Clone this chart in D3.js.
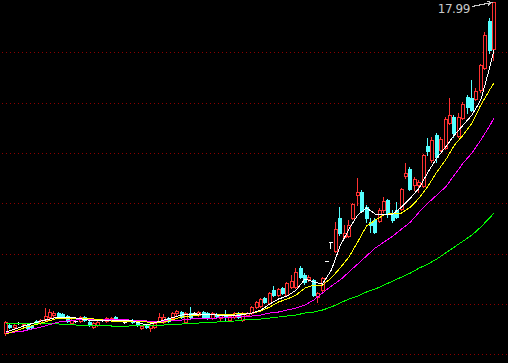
<!DOCTYPE html>
<html><head><meta charset="utf-8">
<script src="https://cdn.jsdelivr.net/npm/d3@7"></script>
<style>html,body{margin:0;padding:0;background:#000;overflow:hidden}svg{display:block}</style>
</head><body><svg id="c" width="508" height="363"></svg>
<script>
// ---- data ----
const opens = [4.75,5.07,4.99,5.15,5.07,5.07,5.03,5.23,5.15,5.27,5.39,5.47,5.55,5.51,5.43,5.15,5.23,5.23,5.39,5.19,
  4.99,5.07,5.27,5.23,5.27,5.39,5.27,5.19,5.27,5.27,5.19,4.95,5.07,4.95,4.99,5.23,5.19,5.35,5.35,5.55,
  5.59,5.19,5.55,5.55,5.47,5.59,5.55,5.35,5.51,5.35,5.51,5.27,5.39,5.55,5.27,5.47,5.55,5.79,5.83,6.15,
  5.95,6.47,6.27,6.55,6.27,6.59,6.59,7.35,7.07,6.91,6.87,6.19,6.47,7.63,8.39,8.03,9.35,8.59,8.63,9.35,
  10.27,10.39,9.79,9.19,9.27,9.23,9.67,10.07,9.55,9.67,9.71,11.03,11.31,10.67,10.67,10.63,12.23,11.67,12.67,12.07,
  12.15,13.15,13.39,12.63,13.35,14.19,14.15,14.11,14.47,15.35,17.23,16.11];
const closes = [5.19,4.99,5.07,5.15,5.11,4.95,4.99,5.15,5.27,5.43,5.59,5.55,5.43,5.39,5.23,5.27,5.23,5.39,5.27,5.07,
  5.15,5.19,5.27,5.35,5.35,5.27,5.27,5.19,5.27,5.19,5.07,5.03,4.99,5.07,5.15,5.39,5.39,5.23,5.55,5.63,
  5.39,5.55,5.39,5.55,5.59,5.39,5.35,5.55,5.43,5.47,5.39,5.43,5.55,5.39,5.55,5.55,5.79,5.99,6.11,5.99,
  6.35,6.27,6.51,6.35,6.75,6.83,7.19,6.99,6.79,6.99,6.27,6.35,6.95,7.63,8.39,8.91,8.75,8.75,9.07,9.91,
  10.39,9.63,9.35,9.07,8.79,9.67,10.03,9.51,9.27,9.39,10.51,11.15,10.51,10.91,10.79,11.87,12.03,12.47,11.79,12.51,
  13.31,13.47,12.75,13.39,13.91,13.79,13.67,14.43,15.47,16.67,16.07,17.99];
const highs = [5.23,5.11,5.11,5.19,5.15,5.11,5.07,5.27,5.31,5.75,5.71,5.63,5.59,5.55,5.47,5.31,5.27,5.43,5.43,5.23,
  5.19,5.23,5.31,5.39,5.39,5.43,5.31,5.23,5.31,5.31,5.23,5.07,5.11,5.11,5.19,5.55,5.51,5.39,5.59,5.67,
  5.63,5.59,5.79,5.59,5.63,5.63,5.59,5.59,5.55,5.51,5.67,5.47,5.59,5.59,5.59,5.59,5.83,6.03,6.15,6.19,
  6.39,6.63,6.55,6.59,6.79,7.07,7.35,7.43,7.15,7.07,6.91,6.39,6.99,7.63,8.39,9.19,9.79,9.07,9.27,9.95,
  10.95,10.47,9.87,9.35,9.35,9.75,10.19,10.11,9.67,9.99,10.55,11.55,11.39,10.99,10.87,11.91,12.55,12.59,12.75,12.59,
  13.39,14.15,13.47,13.55,13.99,14.27,14.87,14.55,15.51,16.79,17.35,17.99];
const lows = [4.67,4.95,4.95,5.11,5.03,4.91,4.95,5.11,5.11,5.23,5.35,5.35,5.39,5.35,5.19,5.11,5.19,5.19,5.23,5.03,
  4.95,5.03,5.23,5.19,5.23,5.23,5.23,5.15,5.23,5.15,5.03,4.91,4.95,4.83,4.95,5.19,5.15,5.19,5.31,5.47,
  5.35,5.15,5.35,5.51,5.43,5.35,5.31,5.31,5.39,5.27,5.27,5.23,5.35,5.35,5.23,5.43,5.51,5.75,5.79,5.95,
  5.91,6.23,6.23,6.31,6.23,6.55,6.55,6.95,6.71,6.83,6.23,5.99,6.43,7.63,8.15,7.99,8.67,8.55,8.59,9.31,
  9.87,9.59,9.19,8.79,8.75,9.19,9.59,9.39,9.19,9.35,9.67,10.95,10.47,10.47,10.39,10.59,11.87,11.59,11.59,12.03,
  12.11,13.11,12.59,12.59,13.31,13.55,13.63,14.07,14.39,15.31,15.95,15.67];

// moving averages, read at these day indices
const maIndex = [0,4,8,12,16,20,24,28,32,36,40,44,48,52,56,58,60,62,64,66,68,70,72,74,76,78,80,82,84,86,88,90,92,94,96,98,100,102,104,106,108,110,111];
const ma5  = [4.79,5.03,5.23,5.39,5.35,5.23,5.27,5.27,5.07,5.27,5.47,5.51,5.47,5.43,5.55,5.67,5.91,6.11,6.23,6.47,6.91,6.79,6.71,7.27,8.23,8.91,9.47,9.75,9.51,9.47,9.51,9.79,10.15,10.55,11.19,11.75,12.19,12.67,13.07,13.47,14.07,15.35,16.07];
const ma10 = [4.71,4.95,5.15,5.35,5.35,5.31,5.23,5.23,5.19,5.19,5.39,5.47,5.51,5.51,5.55,5.63,5.79,5.99,6.11,6.27,6.55,6.67,6.67,6.95,7.35,7.79,8.39,9.03,9.27,9.47,9.55,9.55,9.79,10.15,10.63,11.19,11.67,12.27,12.67,13.15,13.87,14.47,14.75];
const ma20 = [4.75,4.83,4.99,5.19,5.27,5.31,5.31,5.27,5.23,5.23,5.27,5.35,5.35,5.39,5.43,5.47,5.55,5.59,5.67,5.75,5.87,6.07,6.35,6.63,6.87,7.19,7.51,7.83,8.15,8.39,8.63,8.91,9.19,9.59,9.95,10.27,10.59,11.07,11.55,11.95,12.47,13.03,13.35];
const ma60 = [5.15,5.15,5.15,5.11,5.07,5.07,5.03,5.03,5.07,5.07,5.11,5.15,5.19,5.23,5.31,5.31,5.35,5.39,5.43,5.47,5.55,5.59,5.67,5.79,5.95,6.11,6.23,6.39,6.51,6.67,6.83,6.99,7.15,7.35,7.51,7.71,7.95,8.19,8.43,8.67,8.99,9.35,9.55];

const gridPrices = [15.97,13.96,11.95,9.93,7.92,5.91,3.90];
const highLabel = "17.99";

// ---- drawing ----
const W = 508, H = 363;
const svg = d3.select('#c');
svg.append('rect').attr('width', W).attr('height', H).attr('fill', '#000');

const idx = d3.range(opens.length);
const x = d3.scaleBand().domain(idx).range([3.8, 496.2]).paddingInner(0);
const cx = i => x(i) + x.bandwidth() / 2;
const y = d3.scaleLinear().domain([3.55, 18.07]).range([H, 0]);

// grid
svg.append('g').selectAll('line').data(gridPrices).join('line')
  .attr('x1', 2).attr('x2', W)
  .attr('y1', d => Math.round(y(d)) + 0.5).attr('y2', d => Math.round(y(d)) + 0.5)
  .attr('stroke', '#8c0000').attr('stroke-width', 1)
  .attr('stroke-dasharray', '1,3').attr('shape-rendering', 'crispEdges');

const RED = '#ff3232', CYAN = '#54ffff', WHITE = '#ffffff';
const gC = svg.append('g').attr('shape-rendering', 'crispEdges');

idx.forEach(i => {
  const o = opens[i], c = closes[i], h = highs[i], l = lows[i];
  const a = Math.round(cx(i)) - 2;
  const wx = a + 1.5;
  const yo = Math.round(y(o)), yc = Math.round(y(c)), yh = Math.round(y(h)), yl = Math.round(y(l));
  if (c > o) {
    const top = yc, bot = yo;
    if (yh < top) gC.append('line').attr('x1', wx).attr('x2', wx).attr('y1', yh).attr('y2', top).attr('stroke', RED);
    if (yl > bot) gC.append('line').attr('x1', wx).attr('x2', wx).attr('y1', bot + 1).attr('y2', yl + 1).attr('stroke', RED);
    if (bot - top >= 1) {
      gC.append('rect').attr('x', a + 0.5).attr('y', top + 0.5).attr('width', 3).attr('height', bot - top)
        .attr('fill', '#000').attr('stroke', RED).attr('stroke-width', 1);
    } else {
      gC.append('line').attr('x1', a).attr('x2', a + 4).attr('y1', top + 0.5).attr('y2', top + 0.5).attr('stroke', RED);
    }
  } else if (c < o) {
    const top = yo, bot = yc;
    gC.append('line').attr('x1', wx).attr('x2', wx).attr('y1', yh).attr('y2', yl + 1).attr('stroke', CYAN);
    gC.append('rect').attr('x', a).attr('y', top).attr('width', 4).attr('height', Math.max(1, bot - top + 1))
      .attr('fill', CYAN);
  } else {
    if (yl > yh) gC.append('line').attr('x1', wx).attr('x2', wx).attr('y1', yh).attr('y2', yl + 1).attr('stroke', WHITE);
    gC.append('line').attr('x1', a).attr('x2', a + 4).attr('y1', yo + 0.5).attr('y2', yo + 0.5).attr('stroke', WHITE);
  }
});

// moving averages
const line = d3.line().x((d, k) => cx(maIndex[k])).y(d => y(d));
[[ma60, '#00ff00'], [ma20, '#ff00ff'], [ma10, '#ffff00'], [ma5, '#ffffff']].forEach(([arr, col]) => {
  svg.append('path').datum(arr).attr('d', line)
    .attr('fill', 'none').attr('stroke', col).attr('stroke-width', 1)
    .attr('shape-rendering', 'crispEdges');
});

// high marker
const last = opens.length - 1;
const tipX = cx(last) - 2, tipY = y(highs[last]) + 0.5;
svg.append('text').attr('x', tipX - 22).attr('y', tipY + 10)
  .attr('text-anchor', 'end').attr('fill', '#c8c8c8')
  .attr('font-family', '"DejaVu Sans", sans-serif').attr('font-size', 12)
  .attr('letter-spacing', '-0.4')
  .text(highLabel);
const ga = svg.append('g').attr('stroke', '#c8c8c8').attr('stroke-width', 1).attr('fill', 'none').attr('shape-rendering', 'crispEdges');
ga.append('line').attr('x1', tipX - 20).attr('y1', tipY + 4).attr('x2', tipX).attr('y2', tipY);
ga.append('polyline').attr('points', `${tipX - 5},${tipY - 1} ${tipX},${tipY} ${tipX - 4},${tipY + 3}`);
</script>
</body></html>
